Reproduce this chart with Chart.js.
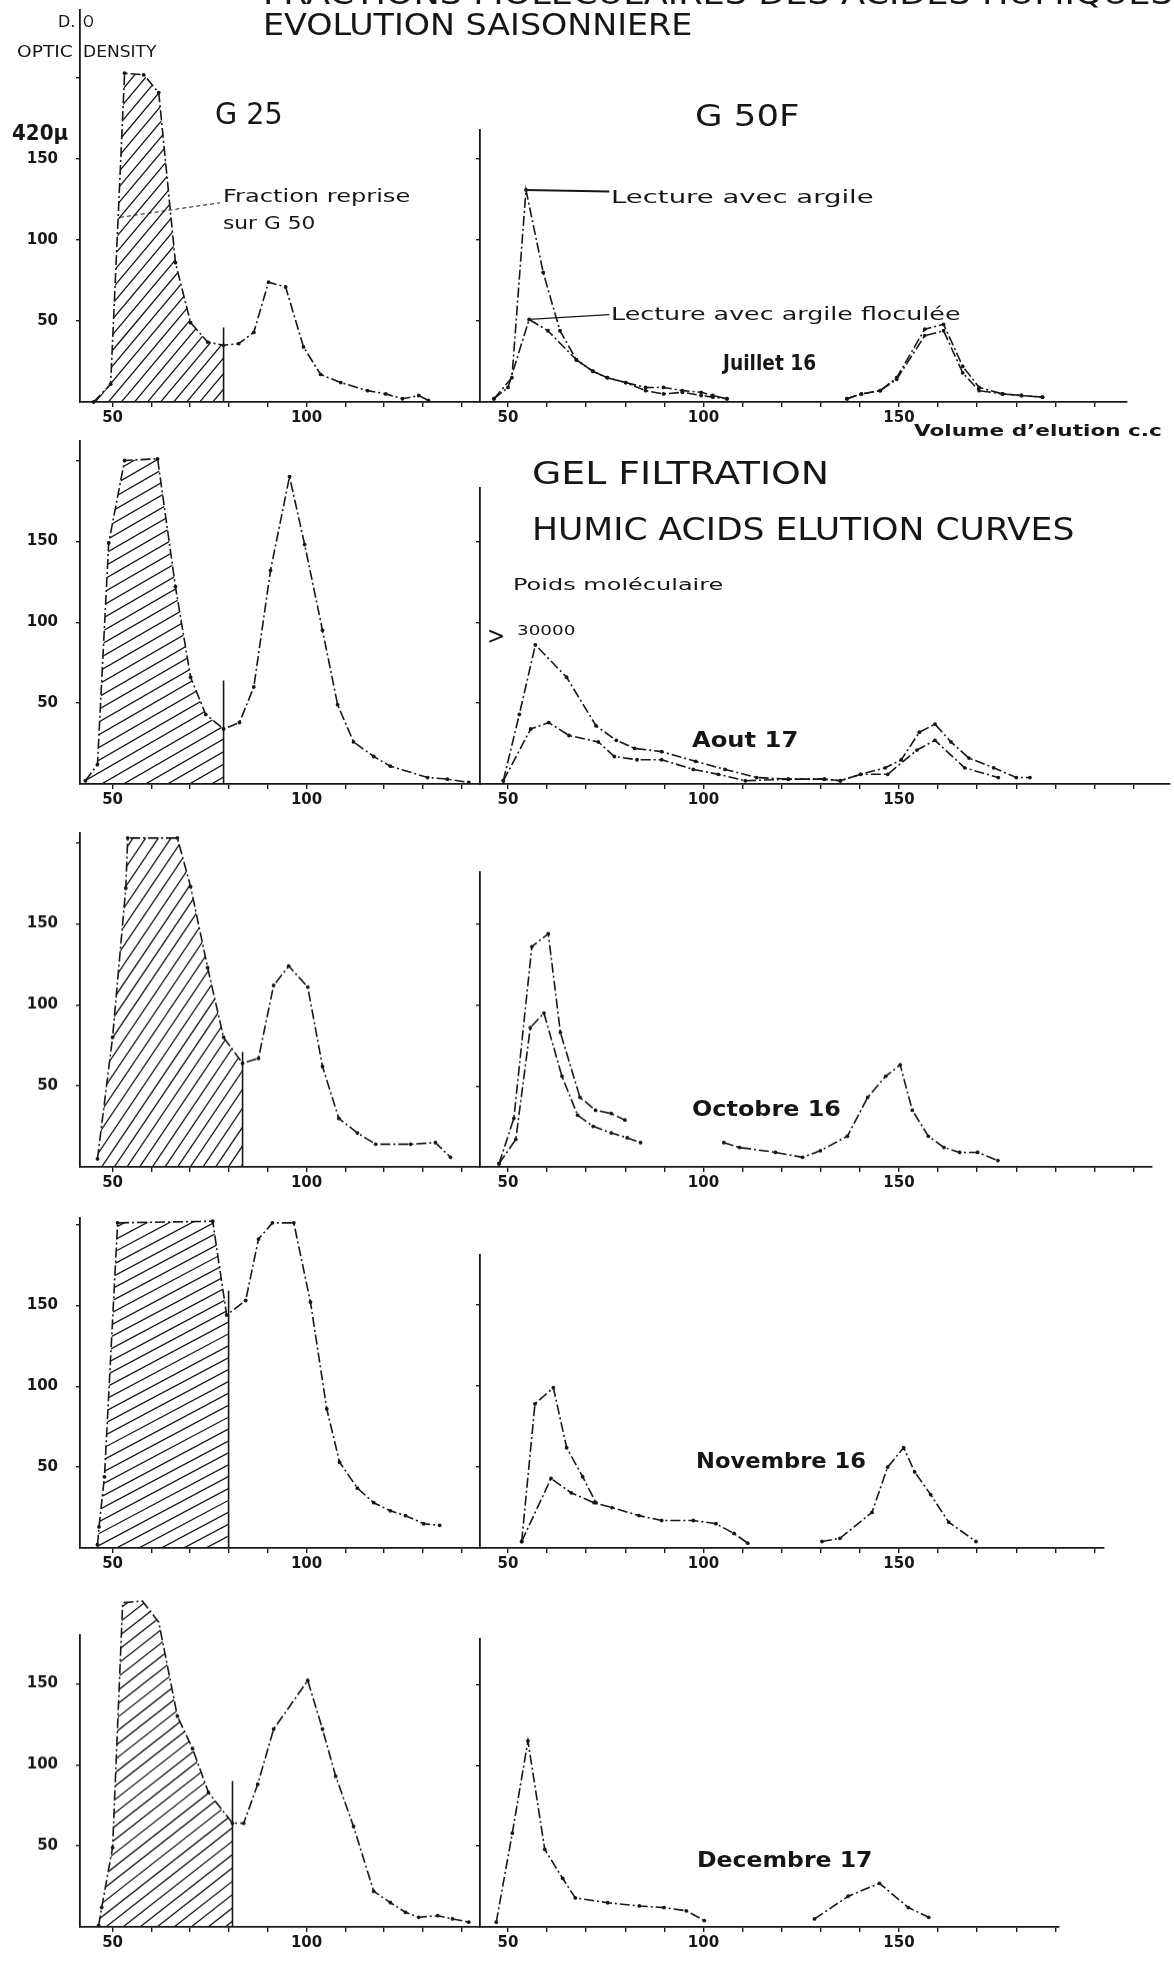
<!DOCTYPE html>
<html>
<head>
<meta charset="utf-8">
<script src="https://cdn.jsdelivr.net/npm/chart.js@4.4.0/dist/chart.umd.min.js"></script>
<style>
html, body { margin: 0; padding: 0; background: #fff; }
#page { position: relative; width: 1174px; height: 1962px; overflow: hidden; background: #fff; }
#page canvas { position: absolute; }
.t { position: absolute; white-space: nowrap; color: #161616; transform-origin: 0 50%; line-height: 1; }
</style>
</head>
<body>
<div id="page"></div>
<script>
// Values: x = elution volume (cc), y = optic density

// G 25 column (one curve per month, hatched up to the cut)
const g25Jul = [[45.1,0],[49.5,11],[53.1,203],[58,202],[61.9,191],[66.2,86],[70.1,49],[74.5,37],[78.6,35],[82.5,36],[86.4,43],[90.2,74],[94.6,71],[99.2,34],[103.6,17],[108.8,12],[115.7,7],[120.4,5],[124.7,2],[128.9,4],[131.4,1]];
const g25Aug = [[43,2],[46.1,12],[49,149],[53.1,200],[61.6,201],[66.2,122],[70.1,66],[74,43],[78.6,34],[82.7,38],[86.4,60],[90.7,132],[95.6,190],[99.5,148],[104.1,95],[108,49],[112.1,26],[117.3,17],[121.6,11],[131.2,4],[136.3,3],[141.8,1]];
const g25Oct = [[46.1,5],[50,80],[53.4,172],[53.9,203],[66.7,203],[70.1,173],[74.5,123],[78.6,80],[83.5,64],[87.6,67],[91.5,112],[95.4,124],[100.3,111],[104.1,62],[108.3,30],[113.1,21],[117.8,14],[126.8,14],[133.2,15],[137.1,6]];
const g25Nov = [[46.1,2],[46.5,13],[47.9,44],[51.3,201],[75.8,202],[79.4,144],[84.3,153],[87.6,191],[91.2,201],[96.7,201],[101,152],[105.2,86],[108.5,53],[113.1,37],[117.3,28],[121.6,23],[125.5,20],[130.2,15],[134.3,14]];
const g25Dec = [[46.4,1],[47.2,12],[50,49],[52.6,200],[57.7,201],[61.9,188],[66.7,130],[70.6,110],[74.7,83],[80.9,64],[83.8,64],[87.4,88],[91.5,122],[100.3,152],[104.1,122],[107.5,93],[112.1,62],[117.3,22],[121.6,15],[125.5,9],[128.9,6],[133.8,7],[137.6,5],[141.8,3]];
// fraction taken again on G 50: cut volume and height of the cut mark
const g25Cut = [78.6, 78.6, 83.5, 79.9, 80.9];
const g25CutTop = [46, 64, 71, 159, 90];

// G 50F column: reading with clay (argile) and with flocculated clay (floculée); null = break
const g50ArgJul = [[46.4,2],[51,15],[54.6,131],[59,80],[63.3,44],[67.5,26],[71.7,19],[75.4,15],[80.1,12],[85.2,9],[89.8,9],[94.6,7],[99.4,6],[102.4,4],[106,2],[120,null],[136.7,2],[140.4,5],[145.2,7],[149.4,15],[156.6,45],[161.4,48],[166.3,22],[170.5,9],[176.5,5],[181.3,4],[186.7,3]];
const g50FlocJul = [[46.4,2],[50,9],[55.4,51],[60.2,44],[67.5,26],[71.7,19],[75.4,15],[80.1,12],[85.2,7],[89.8,5],[94.6,6],[99.4,4],[102.4,3],[106,2],[120,null],[136.7,2],[140.4,5],[145.2,7],[149.4,14],[156.6,41],[161.4,44],[166.3,18],[170.5,7],[176.5,5],[181.3,4],[186.7,3]];
const g50ArgAug = [[48.8,2],[52.9,43],[57,86],[65,66],[72.5,36],[77.7,27],[82.4,22],[89.3,20],[98,14],[105.5,9],[113.6,4],[121.7,3],[130.9,3],[135,2],[140.2,6],[146.5,10],[150.6,15],[155.2,32],[159.2,37],[163.3,26],[167.9,16],[174.2,10],[180,4],[183.5,4]];
const g50FlocAug = [[48.8,2],[55.8,34],[60.4,38],[65.6,30],[73.1,26],[77.2,17],[83,15],[89.3,15],[97.4,9],[103.8,6],[110.7,2],[121.7,3],[130.9,3],[135,2],[140.2,6],[147.1,6],[154.6,21],[159.2,27],[166.8,10],[175.4,4]];
const g50ArgOct = [[47.7,2],[51.5,30],[56.1,136],[60.3,144],[63.4,83],[68.4,43],[72.4,35],[76.4,33],[79.9,29],[92,null],[105.2,15],[109.2,12],[118.4,9],[125.3,6],[129.9,10],[136.8,19],[142,43],[146.6,56],[150.3,63],[153.4,35],[157.5,19],[161.5,12],[165.5,9],[170.1,9],[175.3,4]];
const g50FlocOct = [[47.7,2],[52,17],[55.7,86],[59.2,95],[63.8,56],[67.8,32],[71.8,25],[76.4,21],[80.5,18],[83.9,15]];
const g50ArgNov = [[53.5,4],[56.9,89],[61.6,99],[65,62],[69.1,44],[72.5,28]];
const g50FlocNov = [[53.5,4],[61,43],[66.2,34],[72,28],[76.6,25],[83.5,20],[89.3,17],[97.4,17],[103.2,15],[107.8,9],[111.3,3],[120,null],[130.3,4],[134.9,6],[143.1,22],[147.1,50],[151.2,62],[154,47],[158.1,33],[162.7,16],[169.7,4]];
const g50ArgDec = [[47,3],[51.1,58],[55.1,115],[59.4,48],[64,30],[67.2,18],[75.5,15],[83.6,13],[89.9,12],[95.6,10],[100.2,4],[115,null],[128.4,5],[137,19],[145,27],[152.4,12],[157.6,6]];
const g50FlocDec = [];

// axis ticks
const yTicksLabelled = [50, 100, 150];
const xTicksLabelled = [50, 100, 150];

// leader lines of the annotations (data units)
const leadFraction = [[51.9,114],[77.7,123]];
const leadArgile = [[54.6,131],[75.9,130]];
const leadFloc = [[55.4,51],[75.9,54]];

// page layout (pixels), one entry per month row
const rowBaseline = [402, 784, 1167, 1548, 1927];
const leftTop = [242, 212, 206, 204, 180];     // top of the G 25 axis, in D.O units
const rightTop = [168, 183, 182, 181, 178];    // top of the G 50F axis
const rightEnd = [1127, 1170, 1152, 1104, 1059];
const hatchAngle = [50, 30, 56, 28, 38];
const hatchGap = [10, 11, 10.5, 10.5, 10.5];
const PX_Y = 1.62;

const page = document.getElementById('page');
const INK = '#171717';
Chart.defaults.font.family = '"DejaVu Sans", sans-serif';
Chart.defaults.color = INK;

const toXY = (arr) => arr.map(p => ({ x: p[0], y: p[1] }));

// part of the curve left of the cut, closed at the cut
function cutCurve(pts, cut) {
    const out = [];
    for (let i = 0; i < pts.length; i++) {
        const [x, y] = pts[i];
        if (x <= cut) { out.push({ x, y }); continue; }
        const [x0, y0] = pts[i - 1];
        if (x0 < cut) out.push({ x: cut, y: y0 + (y - y0) * (cut - x0) / (x - x0) });
        break;
    }
    return out;
}

// hatching under a dataset, from the points the line controller placed
const hatchPlugin = {
    id: 'hatchFill',
    beforeDatasetsDraw(chart) {
        chart.data.datasets.forEach((ds, i) => {
            if (!ds.hatch) return;
            const pts = chart.getDatasetMeta(i).data;
            if (!pts.length) return;
            const y0 = chart.scales.y.getPixelForValue(0);
            const ctx = chart.ctx;
            ctx.save();
            ctx.beginPath();
            ctx.moveTo(pts[0].x, y0);
            pts.forEach(p => ctx.lineTo(p.x, p.y));
            ctx.lineTo(pts[pts.length - 1].x, y0);
            ctx.closePath();
            ctx.clip();
            const xs = pts.map(p => p.x);
            const ys = pts.map(p => p.y).concat([y0]);
            const x1 = Math.min(...xs), x2 = Math.max(...xs);
            const yT = Math.min(...ys), yB = Math.max(...ys);
            const R = Math.hypot(x2 - x1, yB - yT) / 2 + 6;
            ctx.translate((x1 + x2) / 2, (yT + yB) / 2);
            ctx.rotate(-ds.hatch.angle * Math.PI / 180);
            ctx.strokeStyle = INK;
            ctx.lineWidth = 1.3;
            ctx.beginPath();
            for (let t = -R; t <= R; t += ds.hatch.gap) {
                ctx.moveTo(-R, t);
                ctx.lineTo(R, t);
            }
            ctx.stroke();
            ctx.restore();
        });
    }
};

function curve(pts) {
    return {
        data: toXY(pts),
        borderColor: INK,
        borderWidth: 1.6,
        borderDash: [10, 3, 2, 3],
        pointRadius: 1.9,
        pointBackgroundColor: INK,
        pointBorderWidth: 0,
        fill: false,
        clip: false,
        tension: 0
    };
}

function plainLine(pts, width, dash) {
    return {
        data: toXY(pts),
        borderColor: INK,
        borderWidth: width,
        borderDash: dash || [],
        pointRadius: 0,
        fill: false,
        clip: false
    };
}

function panel(o) {
    const padTop = 45, xH = 30;
    const areaH = o.yMax * PX_Y;
    const w = o.endX - o.canvasX + o.padRight;
    const h = padTop + areaH + xH;
    const cv = document.createElement('canvas');
    cv.width = w; cv.height = h;
    cv.style.left = o.canvasX + 'px';
    cv.style.top = (o.baseline - areaH - padTop) + 'px';
    cv.style.width = w + 'px';
    cv.style.height = h + 'px';
    page.appendChild(cv);

    new Chart(cv.getContext('2d'), {
        type: 'line',
        data: { datasets: o.datasets },
        plugins: [hatchPlugin],
        options: {
            responsive: false,
            animation: false,
            devicePixelRatio: 1,
            layout: { autoPadding: false, padding: { top: padTop, right: o.padRight, bottom: 0, left: 0 } },
            plugins: { legend: { display: false }, tooltip: { enabled: false } },
            scales: {
                x: {
                    type: 'linear',
                    min: o.xMin,
                    max: o.xMin + (o.endX - o.axisX) / o.pxX,
                    afterFit: (s) => { s.height = xH; },
                    border: { display: true, color: INK, width: 1.8 },
                    grid: { display: true, drawOnChartArea: false, drawTicks: true, tickLength: 5, color: INK, lineWidth: 1.4 },
                    ticks: {
                        stepSize: 10,
                        includeBounds: false,
                        autoSkip: false,
                        maxRotation: 0,
                        padding: 2,
                        font: { size: 15, weight: 'bold' },
                        callback: (v) => xTicksLabelled.includes(v) ? String(v) : ''
                    }
                },
                y: {
                    type: 'linear',
                    min: 0,
                    max: o.yMax,
                    afterFit: (s) => { s.width = o.axisX - o.canvasX; },
                    border: { display: true, color: INK, width: 1.8 },
                    grid: { display: true, drawOnChartArea: false, drawTicks: true, tickLength: 4, color: INK, lineWidth: 1.4 },
                    ticks: {
                        stepSize: 50,
                        includeBounds: false,
                        autoSkip: false,
                        padding: 18,
                        font: { size: 15, weight: 'bold' },
                        callback: (v) => v === 0 ? null : (o.yLabels && yTicksLabelled.includes(v) ? String(v) : '')
                    }
                }
            }
        }
    });
}

const g25Rows = [g25Jul, g25Aug, g25Oct, g25Nov, g25Dec];
const g50Rows = [[g50ArgJul, g50FlocJul], [g50ArgAug, g50FlocAug], [g50ArgOct, g50FlocOct], [g50ArgNov, g50FlocNov], [g50ArgDec, g50FlocDec]];

g25Rows.forEach((pts, r) => {
    const ds = [
        curve(pts),
        plainLine([[g25Cut[r], 0], [g25Cut[r], g25CutTop[r]]], 1.6),
        {
            data: cutCurve(pts, g25Cut[r]),
            showLine: false,
            pointRadius: 0,
            clip: false,
            hatch: { angle: hatchAngle[r], gap: hatchGap[r] }
        }
    ];
    if (r === 0) ds.splice(1, 0, plainLine(leadFraction, 1, [4, 3]));
    panel({
        canvasX: 0, axisX: 80, endX: 481, padRight: 0,
        xMin: 41.6, pxX: 3.88,
        yMax: leftTop[r], baseline: rowBaseline[r], yLabels: true,
        datasets: ds
    });
});

g50Rows.forEach((pair, r) => {
    const ds = pair.filter(s => s.length).map(curve);
    if (r === 0) {
        ds.push(plainLine(leadArgile, 2));
        ds.push(plainLine(leadFloc, 1.3));
    }
    panel({
        canvasX: 460, axisX: 480, endX: rightEnd[r], padRight: 8,
        xMin: 42.84, pxX: 3.91,
        yMax: rightTop[r], baseline: rowBaseline[r], yLabels: false,
        datasets: ds
    });
});

// texts of the figure
function addText(txt, x, y, font, w) {
    const d = document.createElement('div');
    d.className = 't';
    d.textContent = txt;
    d.style.font = font;
    page.appendChild(d);
    const k = w ? w / d.offsetWidth : 1;
    d.style.left = x + 'px';
    d.style.top = (y - d.offsetHeight / 2) + 'px';
    d.style.transform = 'scaleX(' + k + ')';
}

const TITLE = '31px "DejaVu Sans Condensed", "DejaVu Sans", sans-serif';
const HAND = '17px "DejaVu Sans", sans-serif';
const SMALL = '15px "DejaVu Sans", sans-serif';
const MONTH = 'bold 21px "DejaVu Sans", sans-serif';

addText('FRACTIONS MOLECULAIRES DES ACIDES HUMIQUES', 263, -7, TITLE, 910);
addText('EVOLUTION SAISONNIERE', 263, 24, TITLE, 429);
addText('D.', 58, 22, SMALL, 17);
addText('O', 83, 22, SMALL, 11);
addText('OPTIC', 17, 52, SMALL, 56);
addText('DENSITY', 83, 52, SMALL, 74);
addText('420µ', 12, 133, 'bold 21px "DejaVu Sans", sans-serif', 56);
addText('G 25', 215, 113, '30px "DejaVu Sans Condensed", sans-serif', 68);
addText('G 50F', 695, 115, '30px "DejaVu Sans Condensed", sans-serif', 104);
addText('Fraction reprise', 223, 196, HAND, 187);
addText('sur G 50', 223, 223, HAND, 92);
addText('Lecture avec argile', 611, 197, HAND, 262);
addText('Lecture avec argile floculée', 611, 314, HAND, 350);
addText('Volume  d\u2019elution c.c', 914, 430, 'bold 16px "DejaVu Sans", sans-serif', 248);
addText('GEL  FILTRATION', 532, 473, '32px "DejaVu Sans Condensed", sans-serif', 297);
addText('HUMIC ACIDS ELUTION  CURVES', 532, 529, '32px "DejaVu Sans Condensed", sans-serif', 542);
addText('Poids moléculaire', 513, 584, '16px "DejaVu Sans", sans-serif', 210);
addText('>', 487, 636, '24px "DejaVu Sans", sans-serif', 18);
addText('30000', 517, 630, '14px "DejaVu Sans", sans-serif', 59);

const monthNames = ['Juillet 16', 'Aout 17', 'Octobre 16', 'Novembre 16', 'Decembre 17'];
const monthPos = [[723, 363], [692, 740], [692, 1109], [696, 1461], [697, 1860]];
const monthW = [93, 106, 149, 170, 175];
monthNames.forEach((m, i) => {
    addText(m, monthPos[i][0], monthPos[i][1], MONTH, monthW[i]);
});
</script>
</body>
</html>
